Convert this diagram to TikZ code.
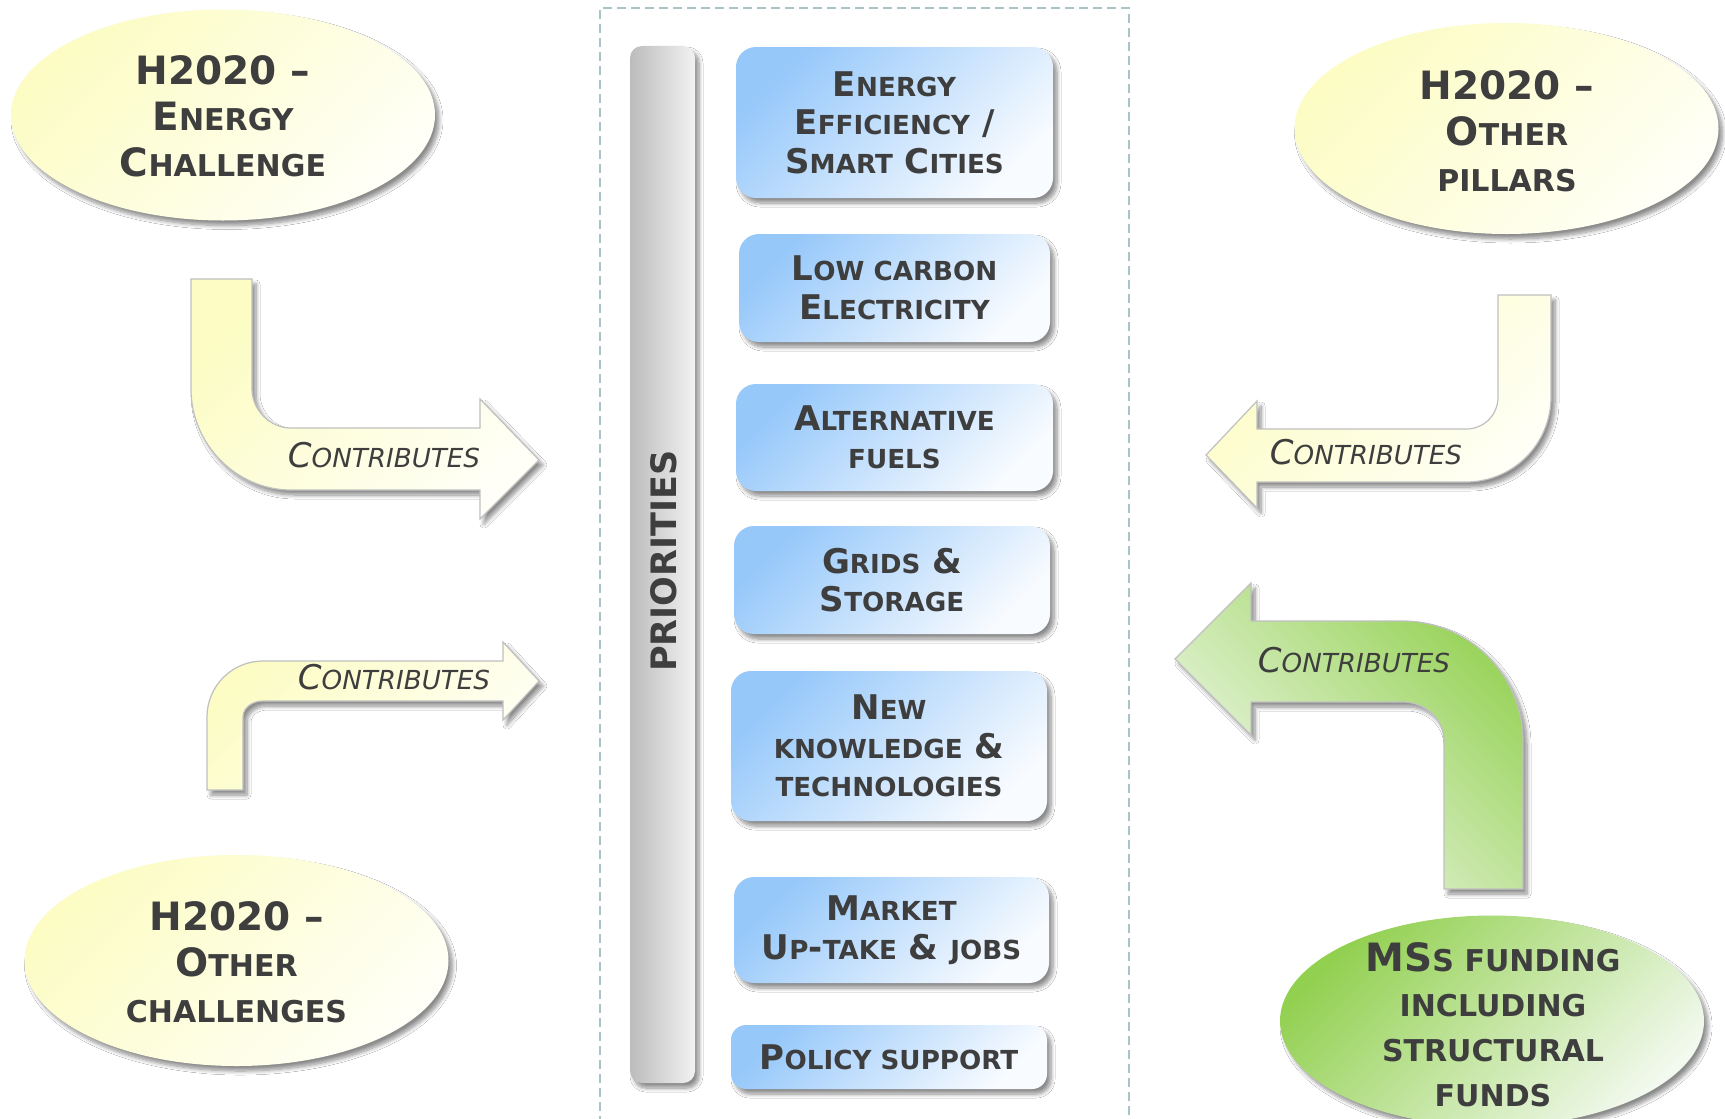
\documentclass[tikz,border=0pt]{standalone}
\usepackage{fontspec}
\setmainfont{DejaVu Sans}
\usetikzlibrary{shapes.geometric,shadows.blur}
\definecolor{txt}{RGB}{62,62,62}
\definecolor{yelA}{RGB}{252,252,196}
\definecolor{yelB}{RGB}{255,255,247}
\definecolor{grnA}{RGB}{146,208,80}
\definecolor{grnB}{RGB}{242,249,238}
\definecolor{bluA}{RGB}{150,200,250}
\definecolor{bluB}{RGB}{248,251,255}
\definecolor{barA}{RGB}{188,188,188}
\definecolor{barB}{RGB}{242,242,242}
\definecolor{frameC}{RGB}{168,196,198}
\definecolor{edgeC}{RGB}{192,192,192}
\makeatletter
\newcommand\lc[1]{{\fontsize{\dimexpr0.77\dimexpr\f@size pt\relax\relax}{\f@baselineskip}\selectfont #1}}
\makeatother
\tikzset{
  shd/.style={blur shadow={shadow xshift=4bp, shadow yshift=-5bp, shadow blur steps=8, shadow blur radius=4bp, shadow opacity=45}},
  ellY/.style={ellipse, minimum width=424bp, minimum height=211bp, inner sep=0pt, shd, top color=yelA, bottom color=yelB, shading angle=45},
  ellG/.style={ellipse, minimum width=424bp, minimum height=211bp, inner sep=0pt, shd, top color=grnA, bottom color=grnB, shading angle=45},
  etext/.style={align=center, text=txt, inner sep=0pt, font=\fontsize{39bp}{46bp}\selectfont\bfseries},
  pbox/.style={rectangle, rounded corners=20bp, inner sep=0pt, shd, top color=bluA, bottom color=bluB, shading angle=45,
    align=center, text=txt, font=\fontsize{34bp}{38.5bp}\selectfont\bfseries},
  arrY/.style={draw=edgeC, line width=1.2bp, shd, top color=yelA, bottom color=yelB, shading angle=45},
  arrG/.style={draw=edgeC, line width=1.2bp, shd, top color=grnA!95, bottom color=grnB, shading angle=-45},
  ctext/.style={text=txt, inner sep=0pt, font=\fontsize{34bp}{40bp}\selectfont\itshape},
  barS/.style={rectangle, rounded corners=12bp, inner sep=0pt, shd, left color=barA, right color=barB},
  frameS/.style={rectangle, draw=frameC, line width=1.5bp, dash pattern=on 9bp off 5bp, inner sep=0pt}
}
\begin{document}
\begin{tikzpicture}[x=1bp, y=-1bp]
\useasboundingbox (0,0) rectangle (1725,1118);
\fill[white] (0,0) rectangle (1725,1118);

% central dashed frame
\node[frameS, minimum width=529bp, minimum height=1124bp] (frame) at (864.5,570) {};

% priorities bar
\node[barS, minimum width=65bp, minimum height=1037bp] (bar) at (662.5,564.5) {};
\node[rotate=90, text=txt, inner sep=0pt, font=\fontsize{35bp}{40bp}\selectfont\bfseries] (pri) at (664,561) {PRIORITIES};

% priority boxes
\node[pbox, minimum width=317bp, minimum height=151bp] (b1) at (894.5,122.5) {E\lc{NERGY}\\E\lc{FFICIENCY} /\\S\lc{MART} C\lc{ITIES}};
\node[pbox, minimum width=311bp, minimum height=108bp] (b2) at (894.5,288) {L\lc{OW CARBON}\\E\lc{LECTRICITY}};
\node[pbox, minimum width=317bp, minimum height=107bp] (b3) at (894.5,437.5) {A\lc{LTERNATIVE}\\\lc{FUELS}};
\node[pbox, minimum width=316bp, minimum height=108bp] (b4) at (892,580) {G\lc{RIDS} \&\\S\lc{TORAGE}};
\node[pbox, minimum width=316bp, minimum height=150bp] (b5) at (889,746) {N\lc{EW}\\\lc{KNOWLEDGE} \&\\\lc{TECHNOLOGIES}};
\node[pbox, minimum width=315bp, minimum height=106bp] (b6) at (891.5,930) {M\lc{ARKET}\\U\lc{P}-\lc{TAKE} \& \lc{JOBS}};
\node[pbox, rounded corners=15bp, minimum width=316bp, minimum height=64bp] (b7) at (889,1057) {P\lc{OLICY SUPPORT}};

% ellipses
\node[ellY] (e1) at (223,115) {};
\node[etext] (t1) at (223,116) {H2020 --\\E\lc{NERGY}\\C\lc{HALLENGE}};
\node[ellY] (e2) at (1506.5,128.5) {};
\node[etext] (t2) at (1507,131) {H2020 --\\O\lc{THER}\\\lc{PILLARS}};
\node[ellY] (e3) at (236.5,960.5) {};
\node[etext] (t3) at (236.5,962) {H2020 --\\O\lc{THER}\\\lc{CHALLENGES}};
\node[ellG] (e4) at (1492,1021) {};
\node[etext, font=\fontsize{39bp}{45bp}\selectfont\bfseries] (t4) at (1493,1025) {MS\lc{S FUNDING}\\\lc{INCLUDING}\\\lc{STRUCTURAL}\\\lc{FUNDS}};

% block arrows
\path[arrY] (191,279) -- (191,389) .. controls (191,444) and (236,490) .. (291,490) -- (480,490) -- (480,519) -- (539,460) -- (480,399) -- (480,428) -- (291,428) .. controls (270,428) and (252,410) .. (252,389) -- (252,279) -- cycle;
\node[ctext] (c1) at (384,455) {C\lc{ONTRIBUTES}};

\path[arrY] (1498,295) -- (1551,295) -- (1551,397) .. controls (1551,444) and (1513,482) .. (1466,482) -- (1257,482) -- (1257,508) -- (1206,455) -- (1257,401) -- (1257,429) -- (1466,429) .. controls (1484,429) and (1498,415) .. (1498,397) -- cycle;
\node[ctext] (c2) at (1366,452) {C\lc{ONTRIBUTES}};

\path[arrY] (207,790) -- (207,717) .. controls (207,686) and (232,661) .. (263,661) -- (503,661) -- (503,642) -- (539,681) -- (503,720) -- (503,701) -- (263,701) .. controls (252,701) and (243,708) .. (243,717) -- (243,790) -- cycle;
\node[ctext] (c3) at (394,677) {C\lc{ONTRIBUTES}};

\path[arrG] (1444,889) -- (1523,889) -- (1523,741) .. controls (1523,675) and (1469,621) .. (1403,621) -- (1251,621) -- (1251,583) -- (1175,659) -- (1251,735) -- (1251,702) -- (1403,702) .. controls (1425,702) and (1444,719) .. (1444,741) -- cycle;
\node[ctext] (c4) at (1354,660) {C\lc{ONTRIBUTES}};
\end{tikzpicture}
\end{document}
